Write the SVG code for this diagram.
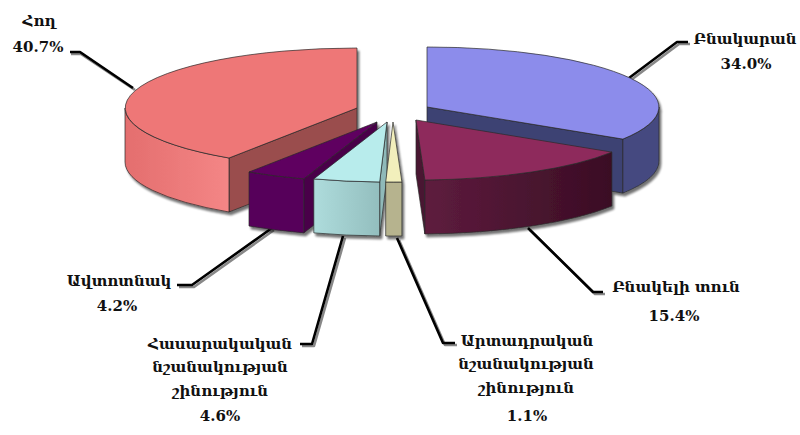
<svg xmlns="http://www.w3.org/2000/svg" width="800" height="435" viewBox="0 0 800 435">
<defs>
<style>
.lbl{font-family:"DejaVu Serif","Noto Serif","DejaVu Sans",serif;font-weight:bold;font-size:15px;fill:#111;text-anchor:middle}
.f{stroke:#2a2a2a;stroke-width:0.7;stroke-linejoin:round}
.ld{fill:none;stroke:#000;stroke-width:2.6;stroke-linejoin:round}
.lds{fill:none;stroke:#888;stroke-width:2.6;stroke-linejoin:round}
</style>
<linearGradient id="gRed" x1="0" y1="0" x2="1" y2="0"><stop offset="0" stop-color="#E46E6E"/><stop offset="1" stop-color="#F48686"/></linearGradient>
<linearGradient id="gMar" x1="0" y1="0" x2="1" y2="0"><stop offset="0" stop-color="#5E1C3E"/><stop offset="1" stop-color="#3A0D24"/></linearGradient>
<linearGradient id="gCya" x1="0" y1="0" x2="1" y2="0"><stop offset="0" stop-color="#AEDCDC"/><stop offset="1" stop-color="#93BEBE"/></linearGradient>
<filter id="sh" x="-10%" y="-10%" width="130%" height="140%">
<feGaussianBlur in="SourceAlpha" stdDeviation="1.2"/>
<feOffset dx="2" dy="3" result="o"/>
<feComponentTransfer><feFuncA type="linear" slope="0.55"/></feComponentTransfer>
<feMerge><feMergeNode/><feMergeNode in="SourceGraphic"/></feMerge>
</filter>
</defs>
<rect width="800" height="435" fill="#fff"/>

<g id="connectors">
<polyline class="lds" points="71,54 81,54 135,90"/>
<polyline class="ld" points="70,52 80,52 133,88"/>
<polyline class="lds" points="690,44 679,44 631,80"/>
<polyline class="ld" points="688,42 677,42 629,78"/>
<polyline class="lds" points="530,230 595,294 605,294"/>
<polyline class="ld" points="528,228 593,292 603,292"/>
<polyline class="lds" points="399,240 445,345 457,345"/>
<polyline class="ld" points="397,238 443,343 455,343"/>
<polyline class="lds" points="345,238 314,346 302,346"/>
<polyline class="ld" points="343,236 312,344 300,344"/>
<polyline class="lds" points="274,230 194,287 179,287"/>
<polyline class="ld" points="272,228 192,285 177,285"/>
</g>

<g id="pie" filter="url(#sh)">
<g id="slice-blue">
<path class="f" fill="#3E4373" d="M427,107 L622.9,139.1 L622.9,193.1 L427,161 Z"/>
<path class="f" fill="#444A80" d="M659,107 A232,60 0 0,1 622.9,139.1 L622.9,193.1 A232,60 0 0,0 659,161 Z"/>
<path class="f" fill="#8C8CEB" d="M427,107 L427,47 A232,60 0 0,1 622.9,139.1 Z"/>
</g>
<g id="slice-red">
<path class="f" fill="#9A4D4D" d="M357,108 L229,158 L229,212 L357,162 Z"/>
<path class="f" fill="url(#gRed)" d="M229,158 A232,60 0 0,1 125,108 L125,162 A232,60 0 0,0 229,212 Z"/>
<path class="f" fill="#EE7777" d="M357,108 L229,158 A232,60 0 0,1 357,48 Z"/>
</g>
<g id="slice-maroon">
<path class="f" fill="#4A1530" d="M416,120 L424.9,180 L424.9,234 L416,174 Z"/>
<path class="f" fill="url(#gMar)" d="M611.9,152.1 A232,60 0 0,1 424.9,180 L424.9,234 A232,60 0 0,0 611.9,206.1 Z"/>
<path class="f" fill="#8E2B5C" d="M416,120 L611.9,152.1 A232,60 0 0,1 424.9,180 Z"/>
</g>
<g id="slice-purple">
<path class="f" fill="#48004A" d="M377,122 L303.8,178.9 L303.8,232.9 L377,176 Z"/>
<path class="f" fill="#57005A" d="M303.8,178.9 A232,60 0 0,1 249,172 L249,226 A232,60 0 0,0 303.8,232.9 Z"/>
<path class="f" fill="#5E0060" d="M377,122 L303.8,178.9 A232,60 0 0,1 249,172 Z"/>
</g>
<g id="slice-cyan">
<path class="f" fill="#8FB9B9" d="M387,122 L379.7,182 L379.7,236 L387,176 Z"/>
<path class="f" fill="url(#gCya)" d="M379.7,182 A232,60 0 0,1 313.8,178.9 L313.8,232.9 A232,60 0 0,0 379.7,236 Z"/>
<path class="f" fill="#B8ECEC" d="M387,122 L379.7,182 A232,60 0 0,1 313.8,178.9 Z"/>
</g>
<g id="slice-khaki">
<path class="f" fill="#B6B38E" d="M401.9,182 A232,60 0 0,1 385.7,182 L385.7,236 A232,60 0 0,0 401.9,236 Z"/>
<path class="f" fill="#F2EFBC" d="M393,122 L401.9,182 A232,60 0 0,1 385.7,182 Z"/>
</g>
</g>

<g id="label-land">
<text class="lbl" x="39" y="26">Հող</text>
<text class="lbl" x="38" y="52">40.7%</text>
</g>
<g id="label-apartment">
<text class="lbl" x="745" y="44">Բնակարան</text>
<text class="lbl" x="746" y="69">34.0%</text>
</g>
<g id="label-house">
<text class="lbl" x="676" y="292">Բնակելի տուն</text>
<text class="lbl" x="674" y="321">15.4%</text>
</g>
<g id="label-industrial">
<text class="lbl" x="527" y="346">Արտադրական</text>
<text class="lbl" x="526" y="369">նշանակության</text>
<text class="lbl" x="526" y="393">շինություն</text>
<text class="lbl" x="527" y="421">1.1%</text>
</g>
<g id="label-public">
<text class="lbl" x="220" y="349">Հասարակական</text>
<text class="lbl" x="220" y="372">նշանակության</text>
<text class="lbl" x="220" y="396">շինություն</text>
<text class="lbl" x="220" y="421">4.6%</text>
</g>
<g id="label-garage">
<text class="lbl" x="119" y="286">Ավտոտնակ</text>
<text class="lbl" x="117" y="311">4.2%</text>
</g>
</svg>
